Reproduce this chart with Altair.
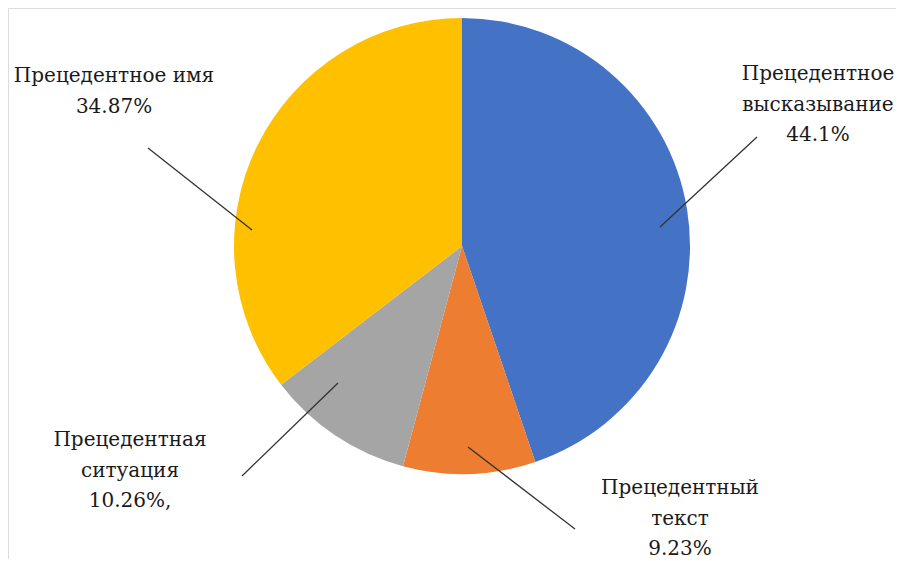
import altair as alt
import pandas as pd

categories = ["Прецедентное высказывание", "Прецедентный текст", "Прецедентная ситуация", "Прецедентное имя"]
values = [44.1, 9.23, 10.26, 34.87]
colors = ["#4472C4", "#ED7D31", "#A5A5A5", "#FFC000"]
labels = [
    "Прецедентное\nвысказывание\n44.1%",
    "Прецедентный\nтекст\n9.23%",
    "Прецедентная\nситуация\n10.26%,",
    "Прецедентное имя\n34.87%",
]

df = pd.DataFrame({"category": categories, "value": values, "order": list(range(len(values)))})

CX, CY, R = 454, 238, 228

pie = alt.Chart(df).mark_arc(outerRadius=R).encode(
    theta=alt.Theta("value:Q", stack=True),
    order=alt.Order("order:Q"),
    color=alt.Color("category:N", scale=alt.Scale(domain=categories, range=colors), legend=None),
    x=alt.value(CX),
    y=alt.value(CY),
)

# layout: label anchor (x, baseline y) and leader line (x1, y1, x2, y2)
label_pos = [(810, 72), (672, 486), (122, 438), (106, 74)]
leader = [(652, 219, 749, 129), (460, 439, 567, 521), (330, 375, 234, 468), (244, 222, 140, 140)]

layers = [pie]
for i, cat in enumerate(categories):
    d = pd.DataFrame({"label": [labels[i]]})
    x1, y1, x2, y2 = leader[i]
    layers.append(
        alt.Chart(d).mark_rule(color="#333333", strokeWidth=1.3).encode(
            x=alt.value(x1), y=alt.value(y1), x2=alt.value(x2), y2=alt.value(y2)
        )
    )
    lx, ly = label_pos[i]
    layers.append(
        alt.Chart(d).mark_text(
            font="DejaVu Serif", fontSize=20, color="#1a1a1a",
            align="center", baseline="alphabetic", lineBreak="\n", lineHeight=30.5,
        ).encode(text="label:N", x=alt.value(lx), y=alt.value(ly))
    )

chart = alt.layer(*layers).properties(
    width=888, height=551, autosize="none", padding=0
).configure_view(stroke="transparent", strokeWidth=0).configure(background="white")

chart.save("out.html", embed_options={"renderer": "svg", "actions": False})
